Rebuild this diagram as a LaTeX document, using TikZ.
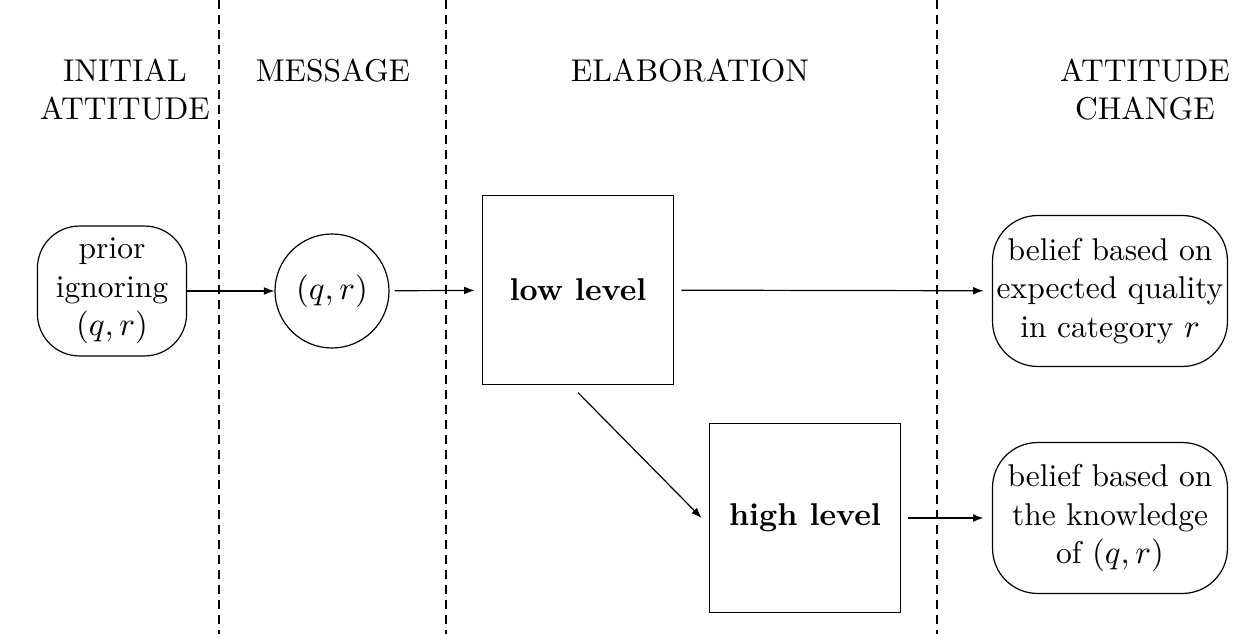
\documentclass[tikz,border=0pt]{standalone}
\usetikzlibrary{arrows.meta}
\tikzset{
  every node/.style={font=\fontsize{10.5pt}{12.8pt}\selectfont},
  hdr/.style={anchor=north,inner sep=0pt,align=center},
  sep/.style={densely dashed,line width=0.4pt},
  roundbox/.style={draw,rounded corners=14pt,minimum width=49.7pt,minimum height=43.3pt,align=center,inner sep=1pt},
  beliefbox/.style={draw,rounded corners=15pt,minimum width=78.3pt,minimum height=50.3pt,align=center,inner sep=1pt,outer sep=3pt},
  sqbox/.style={draw,minimum width=63.5pt,minimum height=63pt,outer sep=2.7pt},
  msgcirc/.style={draw,circle,minimum size=38pt,inner sep=0pt},
  flow/.style={-{Latex[length=3.5pt,width=2.6pt]}}
}
\begin{document}
\begin{tikzpicture}[x=0.3333pt,y=-0.3333pt]
\useasboundingbox (0,0) rectangle (1257,634);
% separators
\coordinate (s1t) at (219,0);   \coordinate (s1b) at (219,634);
\coordinate (s2t) at (446,0);   \coordinate (s2b) at (446,634);
\coordinate (s3t) at (937,0);   \coordinate (s3b) at (937,634);
\draw[sep] (s1t) -- (s1b);
\draw[sep] (s2t) -- (s2b);
\draw[sep] (s3t) -- (s3b);
% headers
\node[hdr] (h1) at (125,58) {INITIAL\\ATTITUDE};
\node[hdr] (h2) at (333,58) {MESSAGE};
\node[hdr] (h3) at (690,58) {ELABORATION};
\node[hdr] (h4) at (1145,58) {ATTITUDE\\CHANGE};
% nodes
\node[roundbox] (prior) at (112,291) {prior\\ignoring\\$(q,r)$};
\node[msgcirc] (msg) at (332,291) {$(q,r)$};
\node[sqbox] (low) at (578,290) {\textbf{low level}};
\node[sqbox] (high) at (805,518) {\textbf{high level}};
\node[beliefbox] (b1) at (1110,291) {belief based on\\expected quality\\in category $r$};
\node[beliefbox] (b2) at (1110,518) {belief based on\\the knowledge\\of $(q,r)$};
% connectors
\draw[flow] (prior) -- (msg);
\draw[flow,shorten <=1.7pt] (msg) -- (low);
\draw[flow] (low) -- (b1);
\draw[flow] (low.south) -- (high.west);
\draw[flow] (high) -- (b2);
\end{tikzpicture}
\end{document}
